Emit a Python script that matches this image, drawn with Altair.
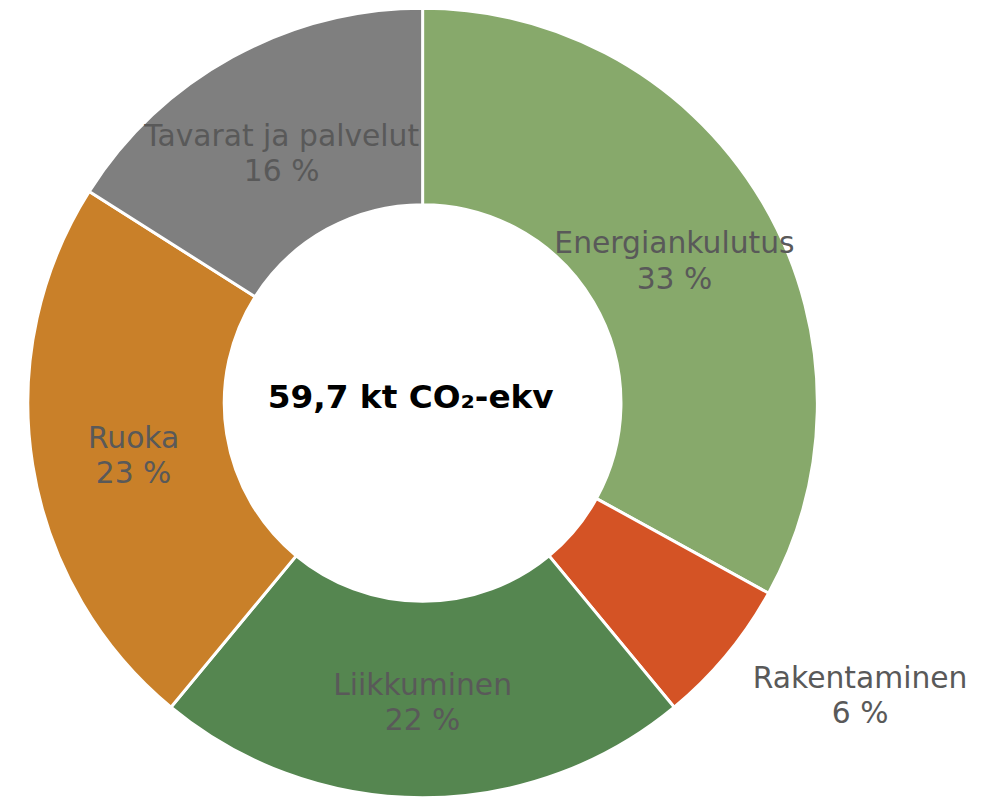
import altair as alt
import pandas as pd

categories = ["Energiankulutus", "Rakentaminen", "Liikkuminen", "Ruoka", "Tavarat ja palvelut"]
shares = [33, 6, 22, 23, 16]
colors = ["#87A96B", "#D45325", "#558650", "#C98029", "#7F7F7F"]
outside = ["Rakentaminen"]
center_text = "59,7 kt CO₂-ekv"

df = pd.DataFrame({
    "cat": categories,
    "share": shares,
    "idx": list(range(len(categories))),
})
df["label"] = [f"{c}\n{v} %" for c, v in zip(categories, shares)]
df["is_out"] = [c in outside for c in categories]

theta_scale = alt.Scale(domain=[0, sum(shares)])
CX, CY = 418, 395

arcs = alt.Chart(df).mark_arc(outerRadius=398, innerRadius=200, stroke="white", strokeWidth=3).encode(
    theta=alt.Theta("share:Q", stack=True, scale=theta_scale),
    order=alt.Order("idx:Q"),
    color=alt.Color("cat:N", scale=alt.Scale(domain=categories, range=colors), legend=None),
    x=alt.value(CX), y=alt.value(CY),
)

FONT = "DejaVu Sans"
label_style = dict(font=FONT, fontSize=30, lineBreak="\n", lineHeight=36,
                   color="#595959", baseline="middle", align="center")

lab_base = alt.Chart(df).transform_window(
    cum="sum(share)", sort=[alt.SortField("idx")], frame=[None, 0]
).transform_calculate(
    mid="datum.cum - datum.share / 2"
).encode(
    theta=alt.Theta("mid:Q", stack=None, scale=theta_scale),
    text="label:N",
    x=alt.value(CX), y=alt.value(CY),
)

inner_labels = lab_base.transform_filter("!datum.is_out").mark_text(radius=295, dy=-10, **label_style)
outer_labels = lab_base.transform_filter("datum.is_out").mark_text(radius=527, dx=35, dy=-58, **label_style)

center = alt.Chart(pd.DataFrame({"t": [center_text]})).mark_text(
    font=FONT, fontSize=33, fontWeight="bold", color="black"
).encode(text="t:N", x=alt.value(406), y=alt.value(390))

chart = alt.layer(arcs, inner_labels, outer_labels, center).properties(
    width=986, height=791, padding=0,
    autosize=alt.AutoSizeParams(type="none"),
).configure(background="white").configure_view(strokeWidth=0)

chart.save("out.html", embed_options={"renderer": "svg", "actions": False})
